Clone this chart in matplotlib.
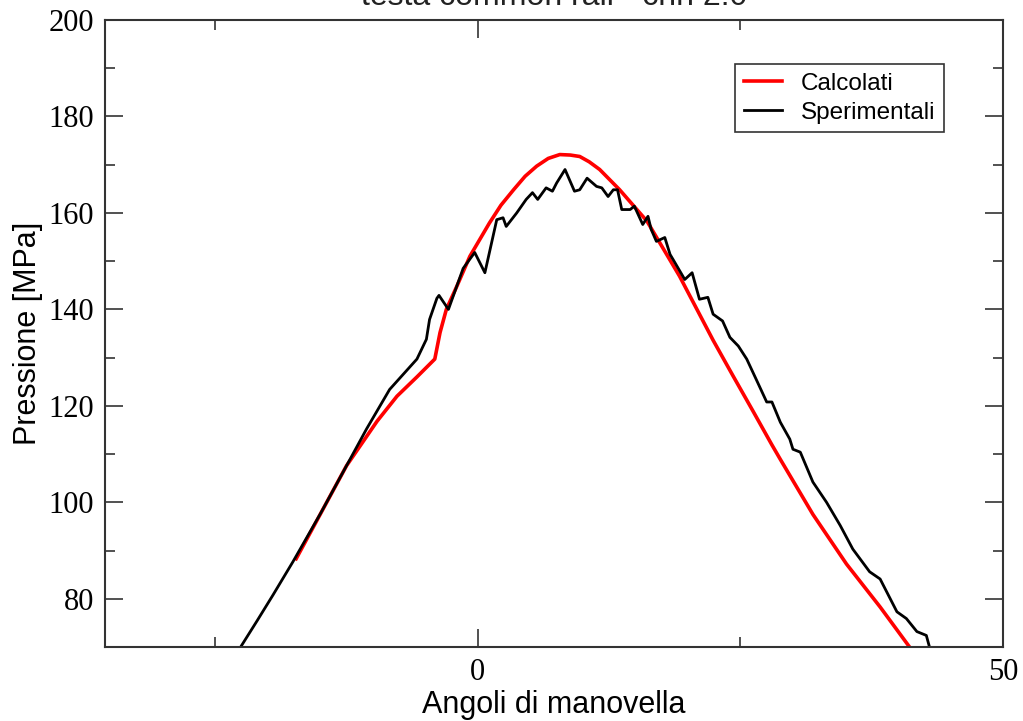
import matplotlib
matplotlib.use("Agg")
import matplotlib.pyplot as plt
from matplotlib.ticker import MultipleLocator

# crank angle [deg] / pressure [MPa]
calc_x = [-17.3, -12.5, -9.6, -7.7, -5.8, -4.1, -3.6, -3.0, -2.0, -0.76, 1.1,
          2.2, 3.4, 4.5, 5.6, 6.7, 7.8, 8.8, 9.7, 10.6, 11.6, 13.5, 16.1, 19.2,
          22.4, 24.3, 26.2, 28.0, 28.8, 31.9, 35.1, 38.3, 41.0]
calc_y = [88.3, 107.6, 116.8, 122.0, 126.0, 129.7, 135.2, 140.0, 144.8, 151.0,
          157.9, 161.6, 164.8, 167.6, 169.7, 171.3, 172.1, 172.0, 171.7, 170.6,
          169.0, 164.8, 158.3, 146.9, 133.6, 126.2, 118.9, 111.9, 108.9, 97.5,
          87.2, 78.3, 70.3]

sper_x = [-22.5, -21.0, -19.5, -17.6, -15.0, -12.5, -10.6, -8.4, -5.8, -4.9,
          -4.6, -3.9, -3.7, -2.8, -1.4, -0.3, 0.67, 1.8, 2.4, 2.7, 3.7, 4.6,
          5.2, 5.7, 6.5, 7.1, 7.5, 8.3, 9.2, 9.7, 10.4, 11.3, 11.8, 12.4, 12.9,
          13.3, 13.7, 14.5, 14.9, 15.7, 16.2, 16.5, 17.0, 17.8, 18.3, 18.6,
          19.7, 20.4, 21.1, 21.9, 22.4, 23.3, 24.0, 24.8, 25.6, 26.5, 27.5,
          28.0, 28.8, 29.7, 30.0, 30.7, 31.9, 33.2, 34.5, 35.7, 37.3, 38.3,
          39.9, 40.8, 41.8, 42.7, 43.0]
sper_y = [70.3, 75.5, 80.8, 87.7, 97.6, 107.6, 115.2, 123.4, 129.7, 133.8,
          137.9, 142.3, 142.9, 140.0, 148.5, 151.8, 147.6, 158.6, 159.0, 157.2,
          160.0, 162.8, 164.2, 162.8, 165.2, 164.5, 166.2, 169.0, 164.5, 164.8,
          167.2, 165.5, 165.2, 163.4, 164.8, 164.8, 160.7, 160.7, 161.4, 157.6,
          159.3, 156.6, 154.1, 154.9, 151.4, 150.3, 146.2, 147.6, 142.1, 142.5,
          139.0, 137.6, 134.2, 132.4, 129.7, 125.5, 120.8, 120.8, 116.6, 113.1,
          111.0, 110.4, 104.2, 100.0, 95.2, 90.3, 85.6, 84.1, 77.3, 75.9, 73.2,
          72.4, 70.0]

sans = "Liberation Sans"
serif = "Liberation Serif"

fig = plt.figure(figsize=(10.23, 7.21), dpi=100)
ax = fig.add_axes([105 / 1023, 1 - 647 / 721, 898 / 1023, 627 / 721])

ax.plot(calc_x, calc_y, color="#ff0000", lw=2.6, label="Calcolati")
ax.plot(sper_x, sper_y, color="black", lw=2.0, label="Sperimentali")

ax.set_xlim(-35.5, 50)
ax.set_ylim(70, 200)
ax.xaxis.set_major_locator(MultipleLocator(50))
ax.xaxis.set_minor_locator(MultipleLocator(25))
ax.yaxis.set_major_locator(MultipleLocator(20))
ax.yaxis.set_minor_locator(MultipleLocator(10))

ax.tick_params(which="both", direction="in", top=True, right=True,
               color="#333333", width=1.2)
ax.tick_params(which="major", length=13, labelsize=22, pad=8)
ax.tick_params(which="minor", length=7)
for lab in ax.get_xticklabels() + ax.get_yticklabels():
    lab.set_fontfamily(serif)
for sp in ax.spines.values():
    sp.set_color("#333333")
    sp.set_linewidth(1.5)

ax.set_xlabel("Angoli di manovella", fontsize=22, family=sans, labelpad=2)
ax.set_ylabel("Pressione [MPa]", fontsize=22, family=sans, labelpad=4)

# title sits mostly above the canvas, as in the original export
fig.text(554 / 1023, 1 - 5 / 721, "testa common rail - cnh 2.0",
         fontsize=23, family=sans, ha="center", va="baseline", color="#222222")

leg = ax.legend(loc="upper left", bbox_to_anchor=(735 / 1023, 1 - 64 / 721),
                bbox_transform=fig.transFigure, prop={"family": sans, "size": 17.5},
                frameon=True, fancybox=False, framealpha=1, borderaxespad=0,
                handlelength=1.6, handletextpad=0.75, borderpad=0.35,
                labelspacing=0.3)
leg.get_frame().set_edgecolor("#333333")
leg.get_frame().set_linewidth(1.2)

fig.savefig("out.png", dpi=100)
